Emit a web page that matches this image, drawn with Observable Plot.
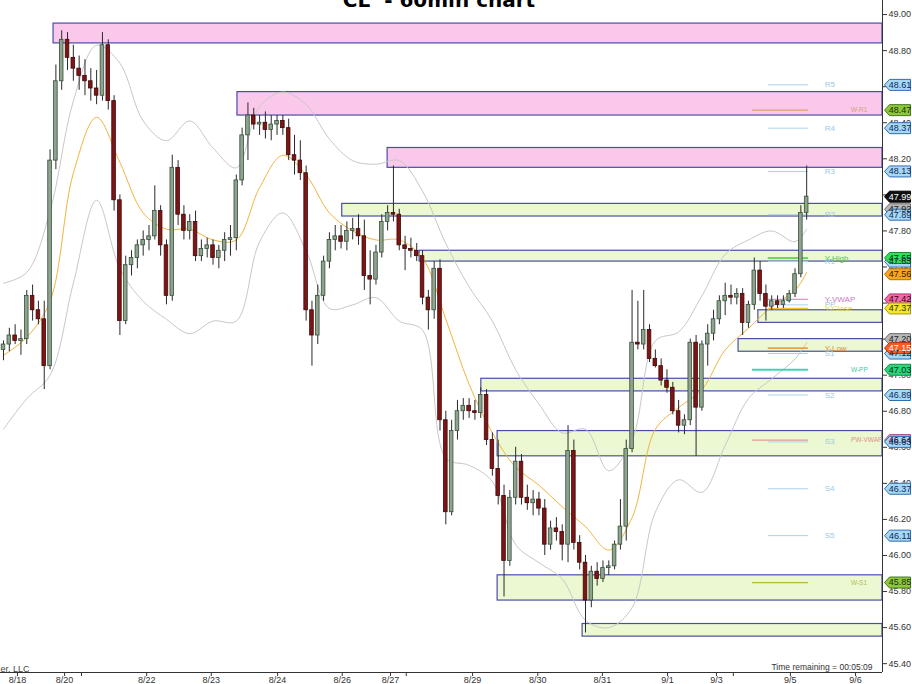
<!DOCTYPE html>
<html><head><meta charset="utf-8">
<script src="https://cdn.jsdelivr.net/npm/d3@7"></script>
<script src="https://cdn.jsdelivr.net/npm/@observablehq/plot@0.6"></script>
<style>
body{margin:0;background:#fff;overflow:hidden;}
#wrap{position:relative;width:912px;height:684px;overflow:hidden;}
#title{position:absolute;left:0;top:-10px;width:878px;text-align:center;font:bold 20px "DejaVu Sans",Verdana,sans-serif;line-height:20px;color:#000;white-space:pre;}
</style></head><body>
<div id="wrap"><div id="chart"></div><div id="title">CL  - 60min chart</div></div>
<script>
// ---- candle data (60 min bars) ----
const opens = [47.14,47.17,47.22,47.19,47.20,47.44,47.36,47.31,47.05,48.19,
48.63,48.86,48.76,48.70,48.66,48.63,48.59,48.55,48.83,48.52,
47.97,47.30,47.61,47.65,47.72,47.75,47.77,47.91,47.72,47.44,
48.15,47.89,47.80,47.85,47.66,47.70,47.72,47.65,47.69,47.75,
47.76,48.08,48.33,48.44,48.39,48.40,48.36,48.39,48.41,48.37,
48.22,48.19,48.12,47.36,47.22,47.44,47.63,47.75,47.77,47.74,
47.80,47.81,47.77,47.55,47.53,47.68,47.85,47.90,47.89,47.72,
47.70,47.69,47.66,47.43,47.36,47.59,46.75,46.24,46.69,46.80,
46.83,46.80,46.79,46.89,46.64,46.48,46.33,45.97,46.32,46.52,
46.32,46.29,46.31,46.26,46.06,46.15,46.13,46.06,46.58,46.07,
45.96,45.75,45.91,45.87,45.93,45.94,46.06,46.16,46.59,47.18,
47.17,47.25,47.09,47.05,46.97,46.93,46.80,46.72,46.75,47.18,
46.82,47.17,47.23,47.31,47.41,47.44,47.43,47.45,47.29,47.39,
47.58,47.45,47.38,47.41,47.39,47.41,47.45,47.56,47.90];
const highs = [47.19,47.26,47.28,47.25,47.47,47.50,47.41,47.41,48.25,48.72,
48.91,48.90,48.83,48.77,48.75,48.70,48.69,48.90,48.86,48.55,
48.00,47.66,47.69,47.75,47.80,47.83,48.05,47.94,47.75,48.22,
48.19,47.94,47.89,47.91,47.75,47.76,47.75,47.72,47.79,47.83,
48.11,48.37,48.51,48.48,48.44,48.46,48.44,48.44,48.44,48.42,
48.33,48.30,48.16,47.41,47.50,47.66,47.79,47.83,47.83,47.85,
47.87,47.89,47.86,47.69,47.72,47.89,47.94,48.16,47.92,47.77,
47.76,47.73,47.69,47.47,47.63,47.64,46.80,46.75,46.86,46.87,
46.87,46.86,46.93,46.92,46.68,46.64,46.39,46.36,46.60,46.56,
46.39,46.36,46.35,46.31,46.19,46.21,46.17,46.72,46.64,46.11,
46.00,45.94,45.96,45.97,45.97,46.08,46.31,46.64,47.47,47.41,
47.47,47.28,47.14,47.09,47.03,46.96,46.86,46.78,47.20,47.22,
47.19,47.28,47.36,47.44,47.51,47.50,47.48,47.48,47.41,47.65,
47.63,47.50,47.44,47.44,47.44,47.47,47.59,47.94,48.16];
const lows = [47.08,47.13,47.17,47.11,47.17,47.30,47.28,46.92,47.03,48.14,
48.58,48.69,48.63,48.58,48.55,48.52,48.50,48.52,48.47,47.91,
47.22,47.28,47.55,47.59,47.66,47.69,47.75,47.66,47.39,47.41,
47.83,47.75,47.75,47.63,47.63,47.65,47.61,47.59,47.63,47.66,
47.69,48.05,48.19,48.36,48.33,48.31,48.30,48.33,48.33,48.19,
48.11,48.08,47.30,47.05,47.17,47.41,47.59,47.69,47.70,47.69,
47.75,47.72,47.47,47.39,47.50,47.65,47.80,47.85,47.69,47.58,
47.65,47.63,47.39,47.25,47.31,46.69,46.17,46.22,46.64,46.75,
46.76,46.75,46.76,46.61,46.44,46.28,45.77,45.94,46.28,46.28,
46.25,46.22,46.22,46.00,46.03,46.08,45.97,45.96,46.03,45.92,
45.57,45.71,45.83,45.85,45.89,45.92,46.03,46.08,46.57,47.14,
47.14,47.07,47.04,46.94,46.90,46.78,46.68,46.67,46.72,46.55,
46.80,47.05,47.19,47.28,47.33,47.39,47.39,47.22,47.26,47.36,
47.41,47.30,47.36,47.37,47.37,47.40,47.43,47.54,47.86];
const closes = [47.17,47.22,47.19,47.20,47.44,47.36,47.31,47.05,48.19,48.63,
48.86,48.76,48.70,48.66,48.63,48.59,48.55,48.83,48.52,47.97,
47.30,47.61,47.65,47.72,47.75,47.77,47.91,47.72,47.44,48.15,
47.89,47.80,47.85,47.66,47.70,47.72,47.65,47.69,47.75,47.76,
48.08,48.33,48.44,48.39,48.40,48.36,48.39,48.41,48.37,48.22,
48.19,48.12,47.36,47.22,47.44,47.63,47.75,47.77,47.74,47.80,
47.81,47.77,47.55,47.53,47.68,47.85,47.90,47.89,47.72,47.70,
47.69,47.66,47.43,47.36,47.59,46.75,46.24,46.69,46.80,46.83,
46.80,46.79,46.89,46.64,46.48,46.33,45.97,46.32,46.52,46.32,
46.29,46.31,46.26,46.06,46.15,46.13,46.06,46.58,46.07,45.96,
45.75,45.91,45.87,45.93,45.94,46.06,46.16,46.59,47.18,47.17,
47.25,47.09,47.05,46.97,46.93,46.80,46.72,46.75,47.18,46.82,
47.17,47.23,47.31,47.41,47.44,47.43,47.45,47.29,47.39,47.58,
47.45,47.38,47.41,47.39,47.41,47.45,47.56,47.90,47.99];

// ---- Bollinger bands and moving average, sampled at bar indexes ----
const bandIdx = [0,4,8,12,16,20,24,28,32,36,40,44,48,52,56,60,64,68,72,76,80,84,88,92,96,100,104,108,112,116,120,124,128,132,136,138];
const bandUpper = [47.51,47.57,47.91,48.52,48.83,48.73,48.41,48.30,48.41,48.26,48.15,48.49,48.57,48.50,48.31,48.19,48.17,48.19,48.02,47.73,47.49,47.30,47.03,46.84,46.68,46.70,46.47,46.64,47.19,47.24,47.44,47.67,47.75,47.80,47.74,47.81];
const bandLower = [46.70,46.87,47.00,47.51,47.97,47.59,47.41,47.31,47.23,47.30,47.30,47.74,47.90,47.69,47.37,47.39,47.43,47.30,47.25,46.54,46.50,46.41,46.06,45.96,45.87,45.64,45.60,45.71,46.24,46.42,46.35,46.61,46.87,46.98,47.09,47.18];
const movingAvg = [47.11,47.21,47.41,48.12,48.43,48.18,47.90,47.81,47.81,47.75,47.75,48.04,48.22,48.11,47.90,47.80,47.75,47.75,47.65,47.31,46.95,46.68,46.49,46.39,46.27,46.16,46.03,46.21,46.70,46.82,46.92,47.14,47.26,47.38,47.47,47.57];

// ---- supply / demand zones ----
const zoneStart = [8.6,40.2,66.0,58.2,71.5,129.7,126.3,82.1,84.9,84.9,99.5];
const zoneTop = [48.95,48.57,48.26,47.95,47.69,47.36,47.20,46.98,46.69,45.89,45.62];
const zoneBottom = [48.84,48.44,48.15,47.88,47.63,47.29,47.13,46.91,46.55,45.75,45.55];
const zoneKind = ["supply","supply","supply","demand","demand","demand","demand","demand","demand","demand","demand"];

// ---- pivot levels ----
const pivotNames = ["R5","R4","R3","R2","R1","PP","S1","S2","S3","S4","S5"];
const pivotValues = [48.61,48.37,48.13,47.89,47.63,47.39,47.12,46.89,46.63,46.37,46.11];
const dayNames = ["Y-VWAP","Y-Close","Y-High","Y-Low"];
const dayValues = [47.42,47.37,47.65,47.15];
const weekNames = ["W-R1","W-PP","W-S1","PW-VWAP"];
const weekValues = [48.47,47.03,45.85,46.64];

// ---- price tags on the right axis ----
const tagValues = [48.61,48.47,48.37,48.13,47.92,47.89,47.99,47.63,47.65,47.56,47.42,47.37,47.20,47.12,47.15,47.03,46.89,46.64,46.63,46.37,46.11,45.85];
const tagKinds = ["blue","olive","blue","blue","gray","blue","black","blue","lime","orange","pink","yellow","gray","blue","red","green","blue","rose","blue","blue","blue","olive"];

// ---- axis ticks ----
const xTickIdx = [2.4,10.5,13.4,24.6,35.7,47.1,58.2,66.5,69.2,80.6,91.8,102.9,114.1,122.5,125.4,135.2,146.4];
const xTickLabels = ["8/18","8/20","","8/22","8/23","8/24","8/26","8/27","","8/29","8/30","8/31","9/1","9/3","","9/5","9/6"];
const yTicks = [45.4,45.6,45.8,46.0,46.2,46.4,46.6,46.8,47.0,47.2,47.4,47.6,47.8,48.0,48.2,48.4,48.6,48.8,49.0];

// ---- build ----
const xMin = -0.515, xMax = 151.03, yMin = 45.351, yMax = 49.078;
const candles = d3.range(opens.length).map(i => ({i, o: opens[i], h: highs[i], l: lows[i], c: closes[i], up: closes[i] >= opens[i]}));
const bands = bandIdx.map((i, k) => ({i, up: bandUpper[k], lo: bandLower[k], ma: movingAvg[k]}));
const zones = zoneStart.map((s, k) => ({s, t: zoneTop[k], b: zoneBottom[k], fill: zoneKind[k] === "supply" ? "#f9c8ea" : "#ebf8d2"}));

const pivotColor = "#a9d3ec";
const pivots = pivotNames.map((n, k) => ({n, v: pivotValues[k]}));
const dayStyle = {
  "Y-High": {c: "#3fcf3f", t: "#55c455", dash: "2,2", w: 1.6},
  "Y-VWAP": {c: "#e58fcf", t: "#c978c8", dash: null, w: 1.2},
  "Y-Close": {c: "#f0c232", t: "#e9d24a", dash: "2,2", w: 1.6},
  "Y-Low": {c: "#f0a040", t: "#e48a2a", dash: "2,2", w: 1.6}
};
const days = dayNames.map((n, k) => ({n, v: dayValues[k], ...dayStyle[n]}));
const weekStyle = {
  "W-R1": {c: "#e3a060", t: "#d8a070", w: 1.2},
  "W-PP": {c: "#45d2b2", t: "#45c8a8", w: 2},
  "W-S1": {c: "#b8b83a", t: "#b0c050", w: 1.2},
  "PW-VWAP": {c: "#e39a9a", t: "#e09090", w: 1.2}
};
const weeks = weekNames.map((n, k) => ({n, v: weekValues[k], ...weekStyle[n]}));

const tagStyle = {
  blue: {f: "#a6d8f5", s: "#2f6db3", t: "#0d2a5c"},
  olive: {f: "#8dc63f", s: "#4a7a1a", t: "#1c3000"},
  black: {f: "#111111", s: "#000000", t: "#ffffff"},
  gray: {f: "#b8b8b8", s: "#6f6f6f", t: "#222222"},
  lime: {f: "#2fe05a", s: "#1a8a30", t: "#00330a"},
  orange: {f: "#f5a623", s: "#b0700a", t: "#3a2000"},
  pink: {f: "#f06aaa", s: "#b03070", t: "#3a0020"},
  yellow: {f: "#f2e62a", s: "#a09a10", t: "#333000"},
  red: {f: "#ff5a1f", s: "#b03000", t: "#ffffff"},
  green: {f: "#2ed47a", s: "#138a48", t: "#00331a"},
  rose: {f: "#eea0cc", s: "#a05080", t: "#3a0020"}
};
const tags = tagValues.map((v, k) => ({v, ...tagStyle[tagKinds[k]]}));
const tagSymbol = {draw(ctx) {
  ctx.moveTo(-10, 0); ctx.lineTo(-5, -5.5); ctx.lineTo(16, -5.5);
  ctx.lineTo(16, 5.5); ctx.lineTo(-5, 5.5); ctx.closePath();
}};
const xLabelMap = new Map(xTickIdx.map((d, k) => [d, xTickLabels[k]]));

const pivX1 = 131.4, pivX2 = 138.3, wkX1 = 128.7, labX = 141.1, wkLabX = 145.6;

const chart = Plot.plot({
  width: 912, height: 684,
  marginLeft: 0, marginRight: 30, marginTop: 0, marginBottom: 12,
  x: {domain: [xMin, xMax]},
  y: {domain: [yMin, yMax]},
  color: {type: "identity"},
  style: {fontFamily: "'Liberation Sans', Arial, sans-serif", fontSize: "9px", background: "#fff", overflow: "visible"},
  marks: [
    Plot.rect(zones, {x1: "s", x2: () => xMax, y1: "b", y2: "t", fill: "fill", stroke: "#4a4ea6", strokeWidth: 1.2}),
    Plot.line(bands, {x: "i", y: "up", stroke: "#c8c8c8", strokeWidth: 1, curve: "catmull-rom"}),
    Plot.line(bands, {x: "i", y: "lo", stroke: "#c8c8c8", strokeWidth: 1, curve: "catmull-rom"}),
    Plot.line(bands, {x: "i", y: "ma", stroke: "#f0b441", strokeWidth: 1, curve: "catmull-rom"}),
    Plot.ruleY(pivots, {y: "v", x1: () => pivX1, x2: () => pivX2, stroke: pivotColor, strokeWidth: 1}),
    Plot.ruleY(weeks, {y: "v", x1: () => wkX1, x2: () => pivX2, stroke: "c", strokeWidth: "w"}),
    Plot.ruleY(days, {y: "v", x1: () => pivX1, x2: () => pivX2, stroke: "c", strokeWidth: d => d.w, strokeDasharray: d => d.dash}),
    Plot.ruleX(candles, {x: "i", y1: "l", y2: "h", stroke: "#2a2a2a", strokeWidth: 1}),
    Plot.rect(candles, {x1: d => d.i - 0.31, x2: d => d.i + 0.31, y1: "o", y2: "c",
      fill: d => d.up ? "#8fa38f" : "#7e1515", stroke: d => d.up ? "#33503a" : "#3e0808", strokeWidth: 0.8}),
    Plot.text(pivots, {x: () => labX, y: "v", text: "n", textAnchor: "start", fill: "#9cc8e6", fontSize: 8}),
    Plot.text(days, {x: () => labX, y: "v", text: "n", textAnchor: "start", fill: "t", fontSize: 8}),
    Plot.text(weeks, {x: () => wkLabX, y: "v", text: "n", textAnchor: "start", fill: "t", fontSize: 6.5}),
    Plot.ruleX([xMax], {stroke: "#333", strokeWidth: 1}),
    Plot.ruleY([yMin], {stroke: "#333", strokeWidth: 1}),
    Plot.axisY(yTicks, {anchor: "right", tickSize: 4, tickPadding: 2, tickFormat: d => d.toFixed(2), fontSize: 9, color: "#333", label: null}),
    Plot.axisX(xTickIdx, {anchor: "bottom", tickSize: 4, tickPadding: 0, tickFormat: d => xLabelMap.get(d), fontSize: 9, color: "#333", label: null}),
    Plot.dot(tags, {y: "v", frameAnchor: "right", dx: 12, symbol: tagSymbol, fill: "f", stroke: "s", strokeWidth: 1}),
    Plot.text(tags, {y: "v", frameAnchor: "right", dx: 17.5, text: d => d.v.toFixed(2), fill: "t", fontSize: 9, textAnchor: "middle"}),
    Plot.text(["er, LLC"], {frameAnchor: "bottom-left", text: d => d, textAnchor: "start", lineAnchor: "bottom", dy: -1, fill: "#444", fontSize: 9}),
    Plot.text(["Time remaining = 00:05:09"], {frameAnchor: "bottom-right", text: d => d, textAnchor: "end", lineAnchor: "bottom", dx: -10, dy: -3, fill: "#333", fontSize: 8.5})
  ]
});
document.getElementById("chart").appendChild(chart);
</script>
</body></html>
